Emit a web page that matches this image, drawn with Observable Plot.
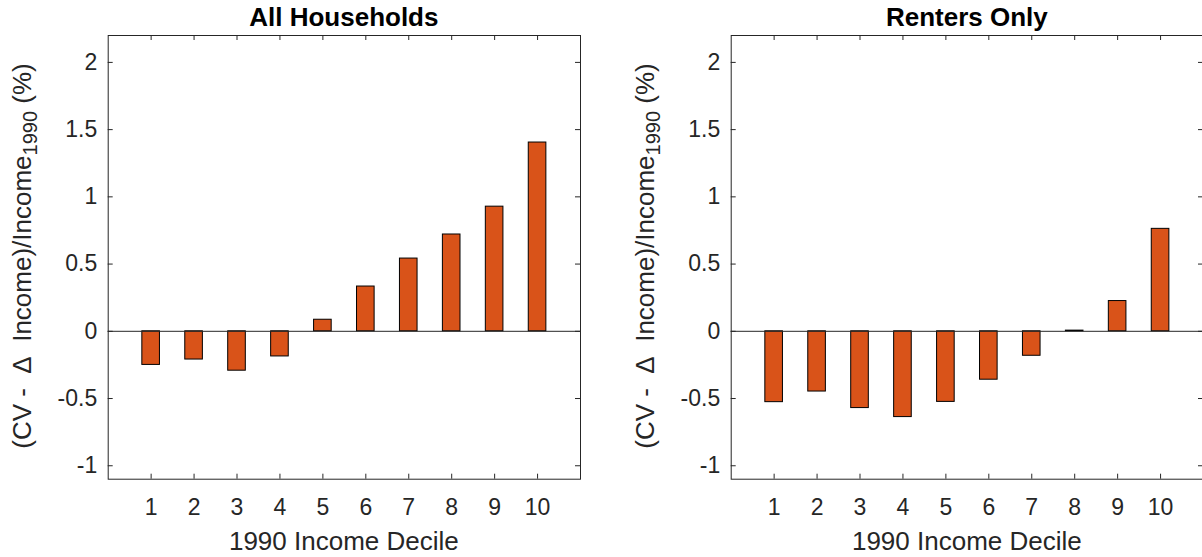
<!DOCTYPE html>
<html><head><meta charset="utf-8">
<script src="https://cdn.jsdelivr.net/npm/d3@7"></script>
<script src="https://cdn.jsdelivr.net/npm/@observablehq/plot@0.6"></script>
<style>
html,body{margin:0;padding:0;background:#fff;overflow:hidden;}
#wrap{position:relative;width:1202px;height:557px;overflow:hidden;}
.panel{position:absolute;top:0;}
</style></head><body><div id="wrap"></div>
<script>
const deciles = [1, 2, 3, 4, 5, 6, 7, 8, 9, 10];
const allHouseholds = [-0.25, -0.21, -0.293, -0.187, 0.086, 0.333, 0.541, 0.72, 0.927, 1.404];
const rentersOnly = [-0.527, -0.448, -0.571, -0.638, -0.525, -0.36, -0.182, 0.005, 0.225, 0.762];
const panelTitles = ["All Households", "Renters Only"];
const xLabel = "1990 Income Decile";
const yLabelMain = "(CV -\u00A0\u00A0\u0394\u00A0\u00A0Income)/Income";
const yLabelSub = "1990";
const yLabelEnd = "\u00A0(%)";
const yTicks = [-1, -0.5, 0, 0.5, 1, 1.5, 2];
const xTicks = deciles;

const FONT = "'Liberation Sans', Arial, Helvetica, sans-serif";
const AX = "#262626";
const TICK_FS = 23;

function makePanel(title, values, left) {
  const W = 620, H = 557;
  const mL = 107.7, mR = W - 580, mT = 35, mB = H - 478.7;
  const iw = W - mL - mR, ih = H - mT - mB;
  const data = deciles.map((d, i) => ({decile: d, value: values[i]}));
  const half = 0.205;
  const chart = Plot.plot({
    width: W, height: H,
    marginLeft: mL, marginRight: mR, marginTop: mT, marginBottom: mB,
    style: {fontFamily: FONT, fontSize: TICK_FS + "px", background: "transparent", color: AX, overflow: "visible"},
    x: {domain: [0, 11]},
    y: {domain: [-1.1, 2.2]},
    marks: [
      Plot.rectY(data, {x1: d => d.decile - half, x2: d => d.decile + half, y1: () => 0, y2: "value",
        fill: "#D95319", stroke: "#000", strokeWidth: 1}),
      Plot.ruleY([0], {stroke: AX, strokeWidth: 1}),
      Plot.frame({stroke: AX, strokeWidth: 1}),
      Plot.tickX(xTicks, {x: d => d, insetTop: ih - 5, stroke: AX}),
      Plot.tickX(xTicks, {x: d => d, insetBottom: ih - 5, stroke: AX}),
      Plot.tickY(yTicks, {y: d => d, insetRight: iw - 5, stroke: AX}),
      Plot.tickY(yTicks, {y: d => d, insetLeft: iw - 5, stroke: AX}),
      Plot.axisX(xTicks, {tickSize: 0, tickPadding: 19.5, label: null, tickFormat: d => String(d)}),
      Plot.axisY(yTicks, {tickSize: 0, tickPadding: 11, label: null, tickFormat: d => String(d)})
    ]
  });
  const svg = d3.select(chart);
  svg.selectAll('g[aria-label="x-axis tick label"] text, g[aria-label="y-axis tick label"] text')
    .attr("font-size", TICK_FS);
  // panel title
  svg.append("text")
    .attr("x", mL + iw / 2).attr("y", 26)
    .attr("text-anchor", "middle")
    .attr("font-family", FONT).attr("font-size", 26).attr("font-weight", "bold")
    .attr("fill", "#000")
    .text(title);
  // x label
  svg.append("text")
    .attr("x", mL + iw / 2).attr("y", 550)
    .attr("text-anchor", "middle")
    .attr("font-family", FONT).attr("font-size", 26)
    .attr("fill", AX)
    .text(xLabel);
  // y label with subscript
  const t = svg.append("text")
    .attr("transform", `translate(31,256) rotate(-90)`)
    .attr("text-anchor", "middle")
    .attr("font-family", FONT)
    .attr("font-size", 26)
    .attr("fill", AX);
  t.append("tspan").text(yLabelMain);
  t.append("tspan").attr("dy", 6).attr("font-size", 20).text(yLabelSub);
  t.append("tspan").attr("dy", -6).text(yLabelEnd);
  chart.classList.add("panel");
  chart.style.left = left + "px";
  document.getElementById("wrap").appendChild(chart);
}

makePanel(panelTitles[0], allHouseholds, 0);
makePanel(panelTitles[1], rentersOnly, 731 - 107.7);
</script>
</body></html>
